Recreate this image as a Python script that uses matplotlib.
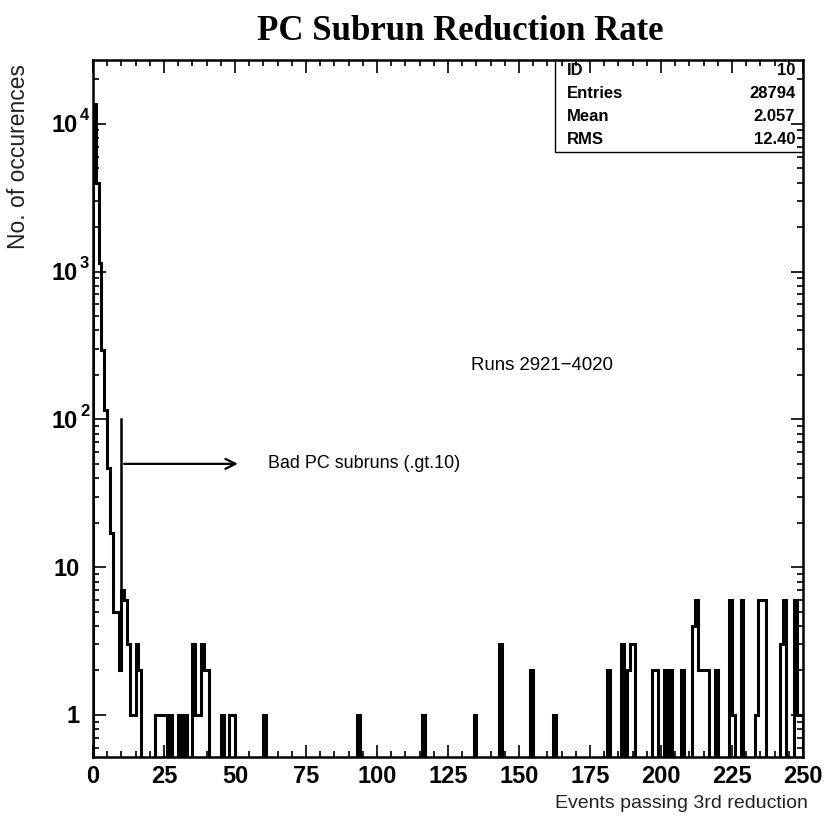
import numpy as np
import matplotlib
matplotlib.use("Agg")
from matplotlib import pyplot as plt
from matplotlib.ticker import FixedLocator, NullFormatter
from matplotlib.transforms import blended_transform_factory, ScaledTranslation

# unit-width bins, 0 .. 250 events passing the 3rd reduction
n_bins = 250
head_counts = [13500, 4000, 1150, 295, 115, 47, 17, 5, 5, 2, 7, 6, 3, 1, 1, 3, 2]
tail_bins = [22, 23, 24, 25, 27, 30, 32, 35, 36, 37, 38, 39, 40, 45, 48, 49,
             60, 93, 116, 134, 143, 154, 162, 181, 186, 188, 189, 190, 197, 198,
             201, 203, 207, 211, 212, 213, 214, 215, 216, 219, 224, 225, 228,
             233, 234, 235, 236, 242, 243, 247, 248, 249]
tail_counts = [1, 1, 1, 1, 1, 1, 1, 3, 1, 1, 3, 2, 2, 1, 1, 1,
               1, 1, 1, 1, 3, 2, 1, 2, 3, 2, 3, 3, 2, 2,
               2, 2, 2, 4, 6, 2, 2, 2, 2, 2, 6, 1, 6,
               1, 6, 6, 6, 3, 6, 6, 1, 1]

stat_names = ["ID", "Entries", "Mean", "RMS"]
stat_values = ["10", "28794", "2.057", "12.40"]

x_ticks = [0, 25, 50, 75, 100, 125, 150, 175, 200, 225, 250]
y_ticks = [1, 10, 100, 1000, 10000]
y_bases = ["1", "10", "10", "10", "10"]
y_exps = ["", "", "2", "3", "4"]

plt.rcParams["font.family"] = ["Liberation Sans", "DejaVu Sans"]

counts = np.zeros(n_bins)
counts[:len(head_counts)] = head_counts
counts[tail_bins] = tail_counts
edges = np.arange(n_bins + 1)
# empty bins drop below the log axis so only the outline of filled bins shows
draw_counts = np.where(counts > 0, counts, 1e-2)

fig = plt.figure(figsize=(8.33, 8.18), dpi=100)
ax = fig.add_axes([0.1116, 0.0746, 0.8524, 0.8521])

ax.stairs(draw_counts, edges, baseline=1e-2, color="black", linewidth=2.2,
          joinstyle="miter")
ax.set_yscale("log")
ax.set_xlim(0, 250)
ax.set_ylim(0.52, 2.7e4)

ax.set_xticks(x_ticks)
ax.set_xticklabels([str(t) for t in x_ticks], fontweight="bold", fontsize=17)
ax.xaxis.set_minor_locator(FixedLocator(np.arange(0, 251, 5)))
ax.set_yticks(y_ticks)
ax.set_yticklabels([])
minor_y = [m * 10 ** d for d in range(-1, 5) for m in range(2, 10)]
ax.yaxis.set_minor_locator(FixedLocator(minor_y))
ax.yaxis.set_minor_formatter(NullFormatter())
ax.tick_params(which="both", direction="in", top=True, right=True, width=1.2)
ax.tick_params(which="major", length=9, pad=6)
ax.tick_params(which="minor", length=4.5)
for s in ax.spines.values():
    s.set_linewidth(1.8)

# decade labels: base number plus a raised exponent
ylab_trans = blended_transform_factory(ax.transAxes, ax.transData)
for val, base, exp in zip(y_ticks, y_bases, y_exps):
    shift = -0.15 if exp else -0.13
    ax.text(0, val, base, ha="right", va="center", fontsize=17,
            fontweight="bold",
            transform=ylab_trans + ScaledTranslation(shift, -0.02, fig.dpi_scale_trans))
    if exp:
        ax.text(0, val, exp, ha="left", va="center", fontsize=12,
                fontweight="bold",
                transform=ylab_trans + ScaledTranslation(-0.13, 0.08, fig.dpi_scale_trans))

fig.text(0.553, 0.962, "PC Subrun Reduction Rate", ha="center", va="center",
         fontsize=25, fontweight="bold", family="Liberation Serif")
fig.text(0.022, 0.922, "No. of occurences", rotation=90, ha="center", va="top",
         fontsize=16.5, color="#222222")
fig.text(0.97, 0.018, "Events passing 3rd reduction", ha="right", va="center",
         fontsize=14, color="#222222")

# statistics box in the upper right corner
box_x0, box_y0 = 0.651, 0.868
ax.plot([box_x0, box_x0, 1], [1, box_y0, box_y0], transform=ax.transAxes,
        color="black", linewidth=1.0, clip_on=False)
for i, (name, val) in enumerate(zip(stat_names, stat_values)):
    y = 0.985 - i * 0.033
    ax.text(box_x0 + 0.017, y, name, transform=ax.transAxes, ha="left",
            va="center", fontsize=12, fontweight="bold")
    ax.text(0.989, y, val, transform=ax.transAxes, ha="right", va="center",
            fontsize=12, fontweight="bold")

ax.text(158, 230, "Runs 2921\u22124020", ha="center", va="center", fontsize=13.4)

# marker for the bad subruns above 10 events
ax.plot([10, 10], [7, 100], color="black", linewidth=1.8)
ax.annotate("", xy=(52, 50), xytext=(10, 50),
            arrowprops=dict(arrowstyle="->", color="black", lw=1.6,
                            mutation_scale=18))
ax.text(61.5, 50, "Bad PC subruns (.gt.10)", ha="left", va="center", fontsize=12.9)

fig.savefig("out.png", dpi=100)
